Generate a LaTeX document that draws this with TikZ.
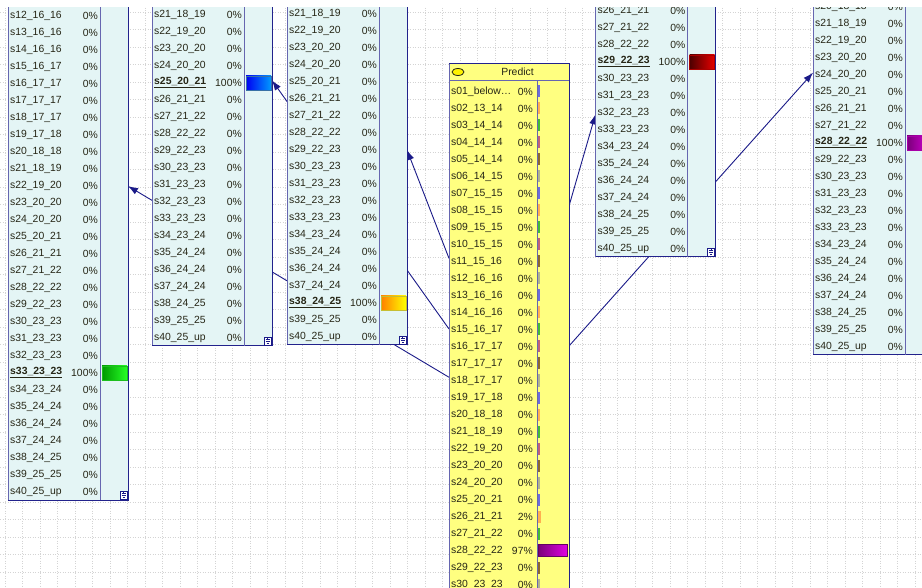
\documentclass[tikz,border=0pt]{standalone}
\usepackage{fontspec}
\setmainfont{Liberation Sans}
\usetikzlibrary{arrows.meta}
\usepackage{xcolor}

\pgfdeclarelayer{bg}
\pgfsetlayers{bg,main}

\definecolor{paneblue}{HTML}{E4F5F5}
\definecolor{paneline}{HTML}{6666B0}
\definecolor{panedark}{HTML}{22228C}
\definecolor{linkblue}{HTML}{1A1A88}
\definecolor{predyellow}{HTML}{FFFF80}
\definecolor{gridgray}{HTML}{D4D4D4}
\definecolor{txt}{HTML}{262616}
% little bars of the Predict column
\definecolor{bar0}{HTML}{6C6CDC}
\definecolor{bar1}{HTML}{FFB050}
\definecolor{bar2}{HTML}{44BB33}
\definecolor{bar3}{HTML}{C0607A}
\definecolor{bar4}{HTML}{8C6A2C}
\definecolor{bar5}{HTML}{B0B48C}
\definecolor{barP1}{HTML}{7A007A}
\definecolor{barP2}{HTML}{E000E0}

\newcommand\statefont{\fontsize{10.4}{12}\selectfont}
\newcommand\firststate{s01\_below\ldots}
\newcommand\statelist{\firststate,s02\_13\_14,s03\_14\_14,s04\_14\_14,s05\_14\_14,
  s06\_14\_15,s07\_15\_15,s08\_15\_15,s09\_15\_15,s10\_15\_15,s11\_15\_16,
  s12\_16\_16,s13\_16\_16,s14\_16\_16,s15\_16\_17,s16\_17\_17,s17\_17\_17,
  s18\_17\_17,s19\_17\_18,s20\_18\_18,s21\_18\_19,s22\_19\_20,s23\_20\_20,
  s24\_20\_20,s25\_20\_21,s26\_21\_21,s27\_21\_22,s28\_22\_22,s29\_22\_23,
  s30\_23\_23,s31\_23\_23,s32\_23\_23,s33\_23\_23,s34\_23\_24,s35\_24\_24,
  s36\_24\_24,s37\_24\_24,s38\_24\_25,s39\_25\_25,s40\_25\_up}

% #1 name, #2/#3 centre, #4 state at 100%, #5/#6 bar colours
\newcommand\netpanel[6]{%
  \node[panel] (#1) at (#2,#3) {};
  \draw[edgeline] (#1.north east) -- (#1.south east) -- (#1.south west);
  \begin{scope}[shift={(#1.north west)}]
    \draw[divline] (0,17) -- (120,17);
    \draw[divline] (92,17) -- (92,699);
    \foreach \s [count=\i] in \statelist {
      \pgfmathsetmacro\yy{11+17*\i}
      \ifnum\i=#4
        \node[state] at (2,\yy) {\bfseries\underline{\s}};
        \node[pct] at (90,\yy) {100\%};
        \shade[left color=#5,right color=#6,draw=#6!75!black,line width=.6pt]
          (94,\yy-7) rectangle (119,\yy+7);
      \else
        \node[state] at (2,\yy) {\s};
        \node[pct] at (90,\yy) {0\%};
      \fi
    }
    \draw[iconline,fill=white] (112,690) rectangle (119,698);
    \draw[iconline] (115.5,691) -- (115.5,692.5) (113.5,692.5) -- (117.5,692.5)
      (113.5,694.5) -- (117.5,694.5) (114.5,696.5) -- (116.5,696.5);
  \end{scope}}

\begin{document}
\begin{tikzpicture}[
  x=1pt,y=-1pt,
  panel/.style={rectangle,draw=paneline,fill=paneblue,line width=1pt,
    minimum width=120pt,minimum height=699pt,inner sep=0pt,outer sep=0pt},
  edgeline/.style={draw=panedark,line width=1pt},
  state/.style={anchor=west,inner sep=0pt,text=txt,font=\statefont},
  pct/.style={anchor=east,inner sep=0pt,text=txt,font=\statefont},
  divline/.style={draw=paneline,line width=1pt},
  iconline/.style={draw=linkblue,line width=.5pt},
  gridline/.style={draw=gridgray,line width=.5pt,dotted},
  link/.style={draw=linkblue,line width=.9pt,-{Latex[length=10pt,width=7pt]}}
]
  \useasboundingbox (0,0) rectangle (922,588);
  \begin{pgfonlayer}{bg}
    \fill[white] (0,0) rectangle (922,588);
    \foreach \gx in {5,22.5,...,922} \draw[gridline] (\gx,8) -- (\gx,588);
    \foreach \gy in {12,29.5,...,588} \draw[gridline] (0,\gy) -- (922,\gy);
  \end{pgfonlayer}

  \begin{scope}
    \clip (0,8) rectangle (922,588);
    \netpanel{A}{68}{150.5}{33}{green!60!black}{green!85!white}
    \netpanel{B}{212}{-3.5}{25}{blue!95!black}{cyan!60!blue}
    \netpanel{C}{347}{-4.5}{38}{orange}{yellow}
    \netpanel{D}{655.5}{-92.5}{29}{red!30!black}{red!90!black}
    \netpanel{E}{873}{5.5}{28}{barP1}{barP2}

    \node[panel,fill=predyellow] (P) at (509,413) {};
    \draw[edgeline] (P.north west) -- (P.north east) -- (P.south east);
    \begin{scope}[shift={(P.north west)}]
      \draw[divline] (0,17) -- (120,17);
      \draw[divline] (88,17) -- (88,699);
      \draw[draw=txt,fill=yellow,line width=.8pt] (9,8.5) ellipse[x radius=6,y radius=3.5];
      \node[state,anchor=center] at (68.5,8.5) {Predict};
      \foreach \s [count=\i] in \statelist {
        \pgfmathsetmacro\yy{11+17*\i}
        \pgfmathtruncatemacro\k{mod(\i-1,6)}
        \node[state] at (2,\yy) {\s};
        \ifnum\i=28
          \node[pct] at (84,\yy) {97\%};
          \shade[left color=barP1,right color=barP2,draw=barP1!80!black,line width=.6pt]
            (89,\yy-6) rectangle (118,\yy+6);
        \else
          \ifnum\i=26
            \node[pct] at (84,\yy) {2\%};
            \fill[bar\k] (89,\yy-6) rectangle (92,\yy+6);
          \else
            \node[pct] at (84,\yy) {0\%};
            \fill[bar\k] (89,\yy-6) rectangle (91,\yy+6);
          \fi
        \fi
      }
    \end{scope}
  \end{scope}

  \begin{pgfonlayer}{bg}
    \draw[link] (P) -- (A);
    \draw[link] (P) -- (B);
    \draw[link] (P) -- (C);
    \draw[link] (P) -- (D);
    \draw[link] (P) -- (E);
  \end{pgfonlayer}
\end{tikzpicture}
\end{document}
